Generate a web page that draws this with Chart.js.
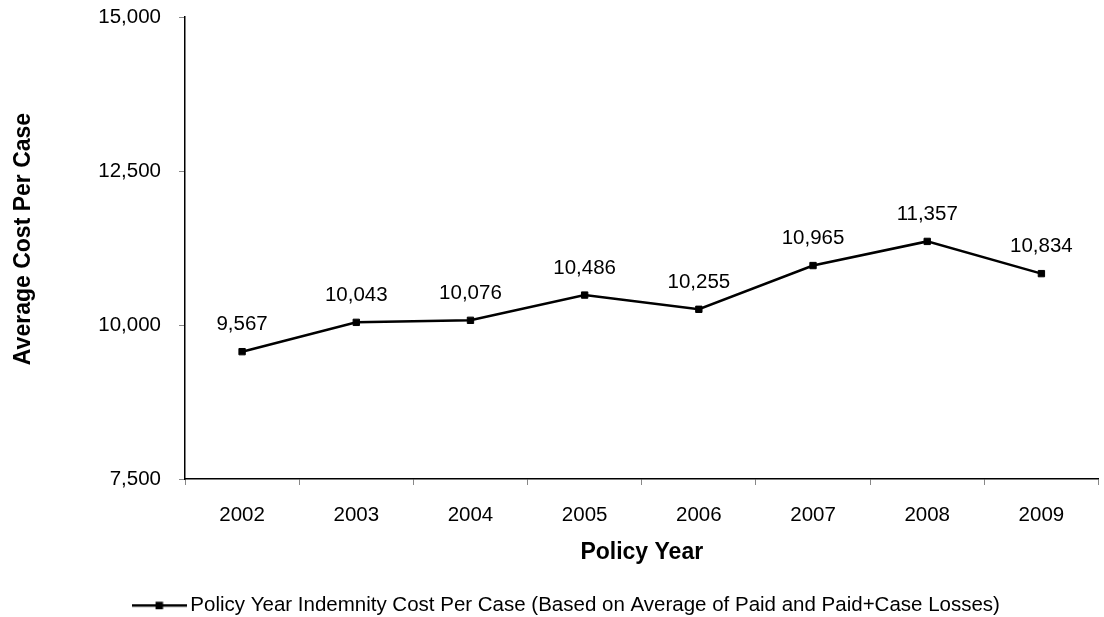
<!DOCTYPE html>
<html>
<head>
    <title>Policy Year Indemnity Cost Per Case</title>
    <style>
        body { margin: 0; background: #fff; }
        .chart-container { width: 1104px; height: 617px; }
    </style>
    <script src="https://cdn.jsdelivr.net/npm/chart.js"></script>
</head>
<body>
    <div class="chart-container">
        <canvas id="myChart"></canvas>
    </div>

    <script>
        // Data
        const years = ['2002', '2003', '2004', '2005', '2006', '2007', '2008', '2009'];
        const costPerCase = [9567, 10043, 10076, 10486, 10255, 10965, 11357, 10834];
        const yTicks = [7500, 10000, 12500, 15000];
        const seriesLabel = 'Policy Year Indemnity Cost Per Case (Based on Average of Paid and Paid+Case Losses)';
        const yTitle = 'Average Cost Per Case';
        const xTitle = 'Policy Year';

        const FONT = "'Liberation Sans', Arial, sans-serif";
        const fmt = v => v.toLocaleString('en-US');

        // legend icon: line with a square marker in the middle
        const legendIcon = document.createElement('canvas');
        legendIcon.width = 55;
        legendIcon.height = 10;
        (function () {
            const c = legendIcon.getContext('2d');
            c.fillStyle = '#000';
            c.fillRect(0, 4, 55, 2.5);
            c.fillRect(24, 1.5, 7.5, 7.5);
        })();

        // value labels above each point
        const valueLabels = {
            id: 'valueLabels',
            afterDatasetsDraw(chart) {
                const ctx = chart.ctx;
                const meta = chart.getDatasetMeta(0);
                ctx.save();
                ctx.font = '20.5px ' + FONT;
                ctx.fillStyle = '#000';
                ctx.textAlign = 'center';
                ctx.textBaseline = 'middle';
                meta.data.forEach((pt, i) => {
                    ctx.fillText(fmt(costPerCase[i]), pt.x, pt.y - 27);
                });
                ctx.restore();
            }
        };

        // y axis title, drawn by hand so it sits where the original has it
        const yAxisTitle = {
            id: 'yAxisTitle',
            afterDraw(chart) {
                const ctx = chart.ctx;
                ctx.save();
                ctx.font = 'bold 23px ' + FONT;
                ctx.fillStyle = '#000';
                ctx.textAlign = 'center';
                ctx.textBaseline = 'alphabetic';
                ctx.translate(30, 239);
                ctx.rotate(-Math.PI / 2);
                ctx.fillText(yTitle, 0, 0);
                ctx.restore();
            }
        };

        const ctx = document.getElementById('myChart').getContext('2d');
        const myChart = new Chart(ctx, {
            type: 'line',
            data: {
                labels: years,
                datasets: [{
                    label: seriesLabel,
                    data: costPerCase,
                    borderColor: '#000',
                    backgroundColor: '#000',
                    borderWidth: 2.5,
                    pointStyle: 'rect',
                    pointRadius: 4.5,
                    pointBorderWidth: 1,
                    pointBackgroundColor: '#000',
                    pointBorderColor: '#000',
                    tension: 0
                }]
            },
            options: {
                responsive: true,
                maintainAspectRatio: false,
                animation: false,
                layout: { padding: { top: 17, right: 0, left: 34, bottom: 0 } },
                plugins: {
                    tooltip: { enabled: false },
                    legend: {
                        position: 'bottom',
                        maxHeight: 22,
                        labels: {
                            usePointStyle: true,
                            pointStyle: legendIcon,
                            pointStyleWidth: 42,
                            padding: 0,
                            color: '#000',
                            font: { family: FONT, size: 20.5 }
                        }
                    }
                },
                scales: {
                    x: {
                        offset: true,
                        grid: {
                            offset: true,
                            drawOnChartArea: false,
                            tickLength: 6,
                            tickColor: '#888'
                        },
                        border: { color: '#000', width: 1.5 },
                        ticks: {
                            padding: 18,
                            color: '#000',
                            font: { family: FONT, size: 20.5 }
                        },
                        title: {
                            display: true,
                            text: xTitle,
                            color: '#000',
                            font: { family: FONT, size: 23, weight: 'bold' },
                            padding: { top: 4, bottom: 29 }
                        },
                        afterFit(scale) {
                            scale.height = 116;
                            scale.paddingLeft = 0;
                            scale.paddingRight = 0;
                        }
                    },
                    y: {
                        min: 7500,
                        max: 15000,
                        afterBuildTicks(scale) {
                            scale.ticks = yTicks.map(v => ({ value: v }));
                        },
                        grid: {
                            drawOnChartArea: false,
                            tickLength: 6,
                            tickColor: '#888'
                        },
                        border: { color: '#000', width: 1.5 },
                        ticks: {
                            padding: 18,
                            color: '#000',
                            font: { family: FONT, size: 20.5 },
                            callback: v => fmt(v)
                        },
                        afterFit(scale) {
                            scale.width = 151;
                            // the tick padding should not push the plot down
                            scale.paddingTop = 0;
                            scale.paddingBottom = 0;
                        }
                    }
                }
            },
            plugins: [valueLabels, yAxisTitle]
        });
    </script>
</body>
</html>
